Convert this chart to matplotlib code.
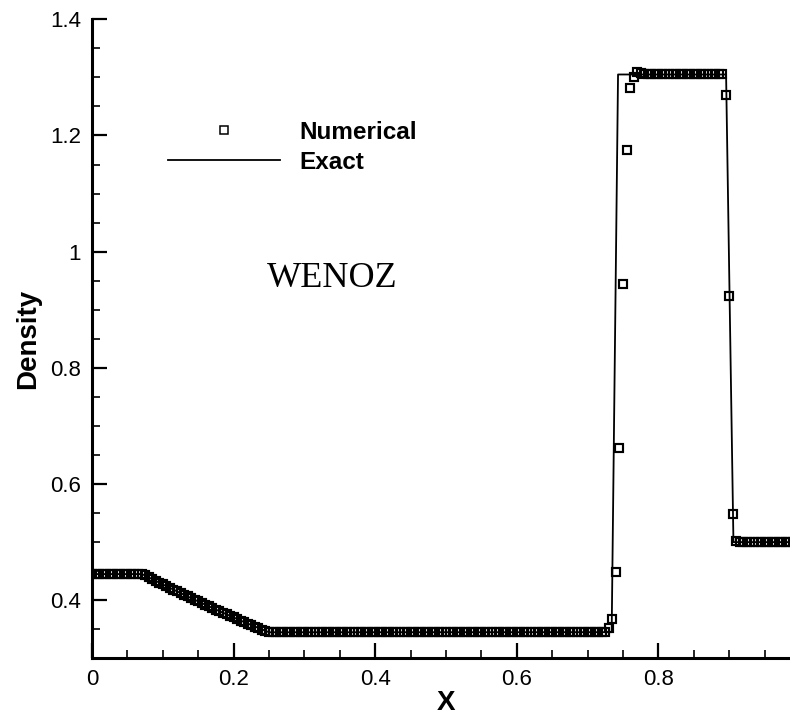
import numpy as np
import matplotlib
matplotlib.use("Agg")
import matplotlib.pyplot as plt
from matplotlib.ticker import MultipleLocator, FuncFormatter

# ---- data ----
# numerical solution on a uniform grid x = 0, 0.005, ..., 1.0 (201 points)
x_num = np.linspace(0.0, 1.0, 201)
rho_num = [
    0.445, 0.445, 0.445, 0.445, 0.445, 0.445, 0.445, 0.445, 0.445, 0.445,
    0.445, 0.445, 0.445, 0.445,
    0.4445, 0.4428, 0.4393, 0.4362, 0.4332, 0.4301, 0.4271, 0.4241, 0.4211, 0.4182,
    0.4152, 0.4123, 0.4094, 0.4065, 0.4036, 0.4007, 0.3979, 0.3951, 0.3922, 0.3895,
    0.3867, 0.3839, 0.3811, 0.3784, 0.3757, 0.3730, 0.3703, 0.3677, 0.3650, 0.3623,
    0.3597, 0.3571, 0.3545, 0.3519, 0.3494, 0.3468, 0.3455,
    0.345, 0.345, 0.345, 0.345, 0.345, 0.345, 0.345, 0.345, 0.345, 0.345,
    0.345, 0.345, 0.345, 0.345, 0.345, 0.345, 0.345, 0.345, 0.345, 0.345,
    0.345, 0.345, 0.345, 0.345, 0.345, 0.345, 0.345, 0.345, 0.345, 0.345,
    0.345, 0.345, 0.345, 0.345, 0.345, 0.345, 0.345, 0.345, 0.345, 0.345,
    0.345, 0.345, 0.345, 0.345, 0.345, 0.345, 0.345, 0.345, 0.345, 0.345,
    0.345, 0.345, 0.345, 0.345, 0.345, 0.345, 0.345, 0.345, 0.345, 0.345,
    0.345, 0.345, 0.345, 0.345, 0.345, 0.345, 0.345, 0.345, 0.345, 0.345,
    0.345, 0.345, 0.345, 0.345, 0.345, 0.345, 0.345, 0.345, 0.345, 0.345,
    0.345, 0.345, 0.345, 0.345, 0.345, 0.345, 0.345, 0.345, 0.345, 0.345,
    0.345, 0.345, 0.345, 0.345, 0.345,
    0.353, 0.367, 0.448, 0.662, 0.945, 1.175, 1.282, 1.300, 1.309, 1.307,
    1.305, 1.305, 1.305, 1.305, 1.305, 1.305, 1.305, 1.305, 1.305, 1.305,
    1.305, 1.305, 1.305, 1.305, 1.305, 1.305, 1.305, 1.305, 1.305, 1.305,
    1.305, 1.305, 1.305,
    1.270, 0.924, 0.549, 0.502,
    0.500, 0.500, 0.500, 0.500, 0.500, 0.500, 0.500, 0.500, 0.500, 0.500,
    0.500, 0.500, 0.500, 0.500, 0.500, 0.500, 0.500, 0.500,
]

# exact solution (piecewise, breakpoints)
x_exact = [0.0, 0.0707, 0.1066, 0.1424, 0.1783, 0.2141, 0.250, 0.734, 0.743, 0.8956, 0.906, 1.0]
rho_exact = [0.445, 0.445, 0.4232, 0.4022, 0.3821, 0.3628, 0.3448, 0.345, 1.305, 1.305, 0.5, 0.5]

xticks = [0, 0.2, 0.4, 0.6, 0.8]
yticks = [0.4, 0.6, 0.8, 1.0, 1.2, 1.4]

# ---- figure ----
W, H = 790, 716
fig = plt.figure(figsize=(W / 100, H / 100), dpi=100)
ax = fig.add_axes([92 / W, 57.7 / H, 708 / W, 639 / H])

ax.plot(x_exact, rho_exact, color="black", lw=1.3, label="Exact", zorder=2)
ax.plot(x_num, rho_num, linestyle="none", marker="s", markersize=6.0,
        mfc="none", mec="black", mew=1.55, label="Numerical", zorder=3)

ax.set_xlim(0, 1)
ax.set_ylim(0.3, 1.4)

for s in ["top", "right"]:
    ax.spines[s].set_visible(False)
for s in ["left", "bottom"]:
    ax.spines[s].set_linewidth(2.2)

ax.set_xticks(xticks)
ax.set_yticks(yticks)
ax.xaxis.set_minor_locator(MultipleLocator(0.05))
ax.yaxis.set_minor_locator(MultipleLocator(0.05))
fmt = FuncFormatter(lambda v, p: "%g" % round(v, 3))
ax.xaxis.set_major_formatter(fmt)
ax.yaxis.set_major_formatter(fmt)

ax.tick_params(which="major", direction="in", length=11, width=1.6,
               labelsize=16, pad=8)
ax.tick_params(which="minor", direction="in", length=6, width=1.2)
for lab in ax.get_xticklabels() + ax.get_yticklabels():
    lab.set_family("Liberation Sans")

ax.set_xlabel("X", fontsize=20, fontweight="bold", family="Liberation Sans", labelpad=0)
ax.set_ylabel("Density", fontsize=20, fontweight="bold", family="Liberation Sans", labelpad=6)

handles, labels = ax.get_legend_handles_labels()
leg = ax.legend(handles[::-1], labels[::-1], loc="upper left",
                bbox_to_anchor=(168 / W, 1 - 121 / H), bbox_transform=fig.transFigure,
                frameon=False, borderpad=0, borderaxespad=0,
                handlelength=4.6, handletextpad=0.8, labelspacing=0.28,
                markerscale=0.85,
                prop={"family": "Liberation Sans", "weight": "bold", "size": 17.5})
for h in leg.legend_handles:
    if h.get_marker() == "s":
        h.set_markeredgewidth(1.1)

fig.text(267 / W, 1 - 287 / H, "WENOZ", family="Liberation Serif", fontsize=26,
         ha="left", va="baseline")

fig.savefig("out.png", dpi=100)
